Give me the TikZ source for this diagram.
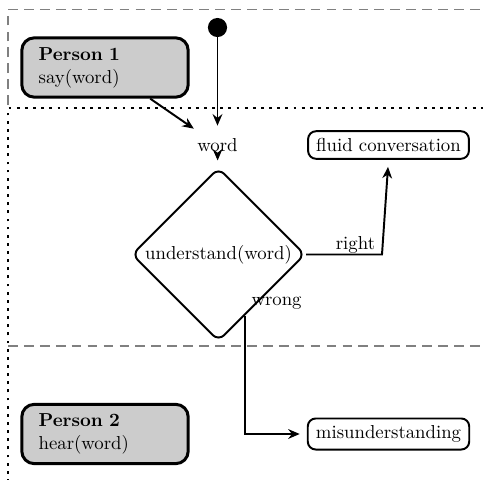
\documentclass[tikz,border=0pt]{standalone}
\usetikzlibrary{shapes.geometric,arrows.meta}
\begin{document}
\begin{tikzpicture}[x=0.565pt,y=-0.565pt,
  every node/.append style={font=\fontsize{10.6}{13}\selectfont},
  lane/.style={gray, line width=1.1pt, dash pattern=on 5.5pt off 3.5pt},
  pool/.style={black, line width=1.6pt, dash pattern=on 1.6pt off 3pt},
  actor/.style={draw, fill=black!20, line width=1.7pt, rounded corners=7pt,
    minimum width=94pt, minimum height=33.5pt, text width=75pt, align=left, inner sep=0pt},
  state/.style={draw, line width=1.1pt, rounded corners=4.5pt, inner xsep=4.6pt, inner ysep=4pt},
  decision/.style={diamond, draw, line width=1.1pt, rounded corners=4.5pt,
    minimum width=98pt, minimum height=98pt, inner sep=0pt, aspect=1},
  flow/.style={line width=1.1pt, shorten >=4pt, -{Stealth[length=6.5pt,width=5.5pt]}},
]
\useasboundingbox (0,0) rectangle (483,479);
\clip (0,0) rectangle (483,479);

% swimlane borders
\draw[lane] (8,105) -- (8,9.5) -- (495,9.5);
\draw[pool] (8,490) -- (8,108) -- (495,108);
\draw[lane] (8,346) -- (495,346);

% lane owners
\node[actor] (p1) at (105,67.5) {\textbf{Person 1}\\say(word)};
\node[actor] (p2) at (105,434) {\textbf{Person 2}\\hear(word)};

% flow nodes
\node[circle, fill, inner sep=0pt, minimum size=10.8pt] (start) at (217.5,27.5) {};
\node[inner sep=3pt] (word) at (217.5,145) {word};
\node[decision] (dia) at (218.5,254.5) {understand(word)};
\node[state] (fluid) at (388.5,145) {fluid conversation};
\node[state] (mis) at (388.5,434) {misunderstanding};
\coordinate (bend) at (382,254.5);

% connectors
\draw[flow] (start) -- (word);
\draw[flow] (p1) -- (word);
\draw[flow] (word) -- (dia);
\draw[flow] (dia.east) -- node[above, pos=0.65, inner sep=0pt] {right} (bend) -- (fluid.south);
\draw[flow] (dia.-67) |- node[pos=0, anchor=south west] {wrong} (mis);
\end{tikzpicture}
\end{document}
